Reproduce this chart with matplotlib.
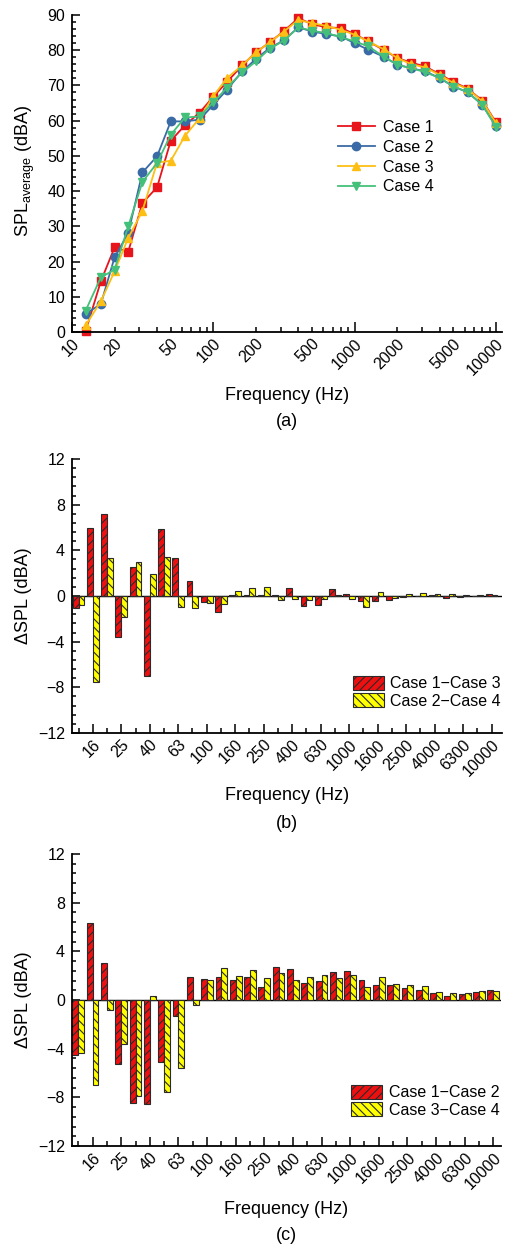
import matplotlib
matplotlib.use('Agg')
import matplotlib.pyplot as plt
from matplotlib.ticker import FixedLocator, MultipleLocator, FuncFormatter, NullFormatter, FixedFormatter
import numpy as np

# ---------------- data ----------------
freqs = [12.5, 16, 20, 25, 31.5, 40, 50, 63, 80, 100, 125, 160, 200, 250, 315,
         400, 500, 630, 800, 1000, 1250, 1600, 2000, 2500, 3150, 4000, 5000,
         6300, 8000, 10000]
band_labels = ['12.5', '16', '20', '25', '31.5', '40', '50', '63', '80', '100',
               '125', '160', '200', '250', '315', '400', '500', '630', '800',
               '1000', '1250', '1600', '2000', '2500', '3150', '4000', '5000',
               '6300', '8000', '10000']

case1 = [0.3, 14.4, 24.0, 22.8, 36.6, 41.1, 54.3, 58.7, 62.3, 66.8, 71.0, 75.7,
         79.4, 82.2, 85.4, 89.1, 87.4, 86.5, 86.3, 84.6, 82.5, 80.1, 77.8, 76.5,
         75.4, 73.2, 71.0, 69.1, 65.7, 59.5]
case2 = [5.2, 7.9, 21.2, 28.1, 45.3, 49.9, 59.8, 59.8, 60.3, 64.5, 68.8, 74.0,
         77.5, 80.6, 82.8, 86.5, 85.3, 84.6, 83.9, 82.0, 80.1, 78.2, 75.9, 74.9,
         74.0, 72.1, 69.7, 68.1, 64.5, 58.4]
case3 = [1.9, 8.7, 17.2, 26.7, 34.4, 48.1, 48.6, 55.7, 60.7, 67.0, 72.1, 75.7,
         79.4, 82.2, 85.3, 88.6, 87.7, 86.9, 85.8, 84.4, 82.5, 80.3, 77.8, 76.1,
         75.1, 73.0, 70.7, 69.0, 65.5, 59.3]
case4 = [6.1, 15.5, 17.7, 30.0, 42.6, 48.0, 56.0, 60.9, 61.2, 65.2, 69.4, 73.7,
         76.8, 80.4, 82.7, 86.5, 85.5, 84.9, 83.7, 82.5, 81.1, 78.2, 75.9, 74.9,
         73.8, 72.1, 69.7, 68.1, 64.5, 58.2]

d13 = [-1.08, 5.93, 7.18, -3.56, 2.51, -7.00, 5.87, 3.30, 1.34, -0.50, -1.37,
       0.12, 0.06, 0.05, 0.12, 0.67, -0.85, -0.76, 0.58, 0.15, -0.41, -0.41,
       -0.32, -0.05, 0.02, 0.05, -0.15, -0.05, -0.03, 0.15]
d24 = [-0.79, -7.56, 3.30, -1.87, 3.00, 1.93, 3.39, -0.99, -1.08, -0.58, -0.67,
       0.41, 0.70, 0.79, -0.38, -0.26, -0.38, -0.23, 0.06, -0.29, -0.99, 0.35,
       -0.20, 0.15, 0.26, 0.15, 0.15, 0.05, 0.06, 0.06]

d12 = [-4.55, 6.36, 3.04, -5.23, -8.47, -8.55, -5.10, -1.34, 1.92, 1.70, 1.89,
       1.67, 1.86, 1.07, 2.68, 2.55, 1.40, 1.56, 2.33, 2.41, 1.62, 1.21, 1.23,
       0.96, 0.82, 0.58, 0.33, 0.47, 0.63, 0.79]
d34 = [-4.36, -6.96, -0.79, -3.59, -7.92, 0.36, -7.56, -5.62, -0.44, 1.62, 2.60,
       1.97, 2.44, 1.81, 2.25, 1.67, 1.86, 2.05, 1.81, 2.05, 1.04, 1.86, 1.34,
       1.21, 1.15, 0.68, 0.58, 0.55, 0.74, 0.71]

# ---------------- style ----------------
plt.rcParams['font.family'] = ['Liberation Sans', 'DejaVu Sans']
plt.rcParams['mathtext.fontset'] = 'custom'
plt.rcParams['mathtext.rm'] = 'Liberation Sans'
plt.rcParams['mathtext.it'] = 'Liberation Sans:italic'
plt.rcParams['hatch.linewidth'] = 0.8

W, H = 507, 1249
fig = plt.figure(figsize=(W / 100, H / 100), dpi=100)

TICK_FS = 11.5
LAB_FS = 13
LEG_FS = 11.5


def ax_px(l, t, r, b):
    return fig.add_axes([l / W, 1 - b / H, (r - l) / W, (b - t) / H])


def ftext(x, y, s, **kw):
    fig.text(x / W, 1 - y / H, s, ha='center', va='center', **kw)


def style_axes(ax):
    for s in ('top', 'right'):
        ax.spines[s].set_visible(False)
    for s in ('left', 'bottom'):
        ax.spines[s].set_linewidth(1.3)
    ax.tick_params(which='both', direction='in', width=1.1, labelsize=TICK_FS)
    ax.tick_params(axis='y', which='major', length=6, pad=5)
    ax.tick_params(axis='y', which='minor', length=3)


# ---------------- panel (a) ----------------
axa = ax_px(72, 15, 502, 332)
style_axes(axa)
cols = ['#e8141c', '#3a6ba6', '#fdbf14', '#45c07a']
marks = ['s', 'o', '^', 'v']
names = ['Case 1', 'Case 2', 'Case 3', 'Case 4']
for data, c, m, n in zip([case1, case2, case3, case4], cols, marks, names):
    axa.plot(freqs, data, color=c, marker=m, ms=6, mec=c, mfc=c, lw=1.3,
             label=n, clip_on=False)
axa.set_xscale('log')
axa.set_xlim(10, 10 ** (1 + 430 / 141.33))
axa.set_ylim(0, 90)
axa.xaxis.set_major_locator(FixedLocator([10, 100, 1000, 10000]))
minor_x = [k * 10 ** d for d in range(1, 4) for k in range(2, 10)]
axa.xaxis.set_minor_locator(FixedLocator(minor_x))
axa.xaxis.set_major_formatter(FuncFormatter(lambda v, p: '%d' % round(v)))


def minfmt(v, p):
    lead = int(round(v / 10 ** np.floor(np.log10(v) + 1e-9)))
    return '%d' % round(v) if lead in (2, 5) else ''


axa.xaxis.set_minor_formatter(FuncFormatter(minfmt))
axa.tick_params(axis='x', which='major', length=7, pad=3, labelrotation=45)
axa.tick_params(axis='x', which='minor', length=3.5, pad=3, labelrotation=45,
                labelsize=TICK_FS)
axa.yaxis.set_major_locator(MultipleLocator(10))
axa.yaxis.set_minor_locator(MultipleLocator(2))
for lbl in axa.get_xticklabels(which='both'):
    lbl.set_ha('right')
    lbl.set_rotation_mode('anchor')
leg = axa.legend(loc='upper left', bbox_to_anchor=(338 / W, 1 - 120 / H),
                 bbox_transform=fig.transFigure, frameon=False, fontsize=LEG_FS,
                 handlelength=2.3, handletextpad=0.5, labelspacing=0.3,
                 borderpad=0, borderaxespad=0)

ftext(25, 171, r'SPL$_{\mathrm{average}}$ (dBA)', rotation=90, fontsize=LAB_FS)
ftext(287, 395.5, 'Frequency (Hz)', fontsize=LAB_FS)
ftext(287, 422, '(a)', fontsize=LAB_FS)

# ---------------- bar panels ----------------
x = np.arange(len(freqs))
bw = 0.41


def bar_panel(rect, xlim, red, yel, lab_red, lab_yel, leg_xy, xlab_y, panel_y, tag):
    ax = ax_px(*rect)
    style_axes(ax)
    ax.axhline(0, color='black', lw=1.0, zorder=0.5)
    ax.bar(x - bw / 2, red, bw, color='#ee1010', edgecolor='#2a2a2a', lw=0.8,
           hatch='////', label=lab_red, zorder=2)
    ax.bar(x + bw / 2, yel, bw, color='#ffff00', edgecolor='#2a2a2a', lw=0.8,
           hatch='\\\\\\\\', label=lab_yel, zorder=2)
    ax.set_xlim(*xlim)
    ax.set_ylim(-12, 12)
    ax.yaxis.set_major_locator(MultipleLocator(4))
    ax.yaxis.set_minor_locator(MultipleLocator(0.8))
    ax.xaxis.set_major_locator(FixedLocator(x[1::2]))
    ax.xaxis.set_minor_locator(FixedLocator(x[0::2]))
    ax.xaxis.set_major_formatter(FixedFormatter(band_labels[1::2]))
    ax.xaxis.set_minor_formatter(NullFormatter())
    ax.tick_params(axis='x', which='major', length=6.5, pad=3, labelrotation=45)
    ax.tick_params(axis='x', which='minor', length=3.5)
    for lbl in ax.get_xticklabels():
        lbl.set_ha('right')
        lbl.set_rotation_mode('anchor')
    ax.legend(loc='upper left', bbox_to_anchor=(leg_xy[0] / W, 1 - leg_xy[1] / H),
              bbox_transform=fig.transFigure, frameon=False, fontsize=LEG_FS,
              handlelength=1.95, handleheight=0.95, handletextpad=0.4,
              labelspacing=0.12, borderpad=0, borderaxespad=0)
    cy = (rect[1] + rect[3]) / 2
    cx = (rect[0] + rect[2]) / 2
    ftext(24, cy, 'ΔSPL (dBA)', rotation=90, fontsize=LAB_FS)
    ftext(cx, xlab_y, 'Frequency (Hz)', fontsize=LAB_FS)
    ftext(cx, panel_y, tag, fontsize=LAB_FS)
    return ax


bar_panel((72, 459, 502, 733), (-0.46, 29.73), d13, d24,
          'Case 1\u2212Case 3', 'Case 2\u2212Case 4', (352.7, 676),
          795.5, 824, '(b)')
bar_panel((72, 854, 500.7, 1146), (-0.44, 29.52), d12, d34,
          'Case 1\u2212Case 2', 'Case 3\u2212Case 4', (351, 1085),
          1209, 1236, '(c)')

fig.savefig('out.png', dpi=100)
